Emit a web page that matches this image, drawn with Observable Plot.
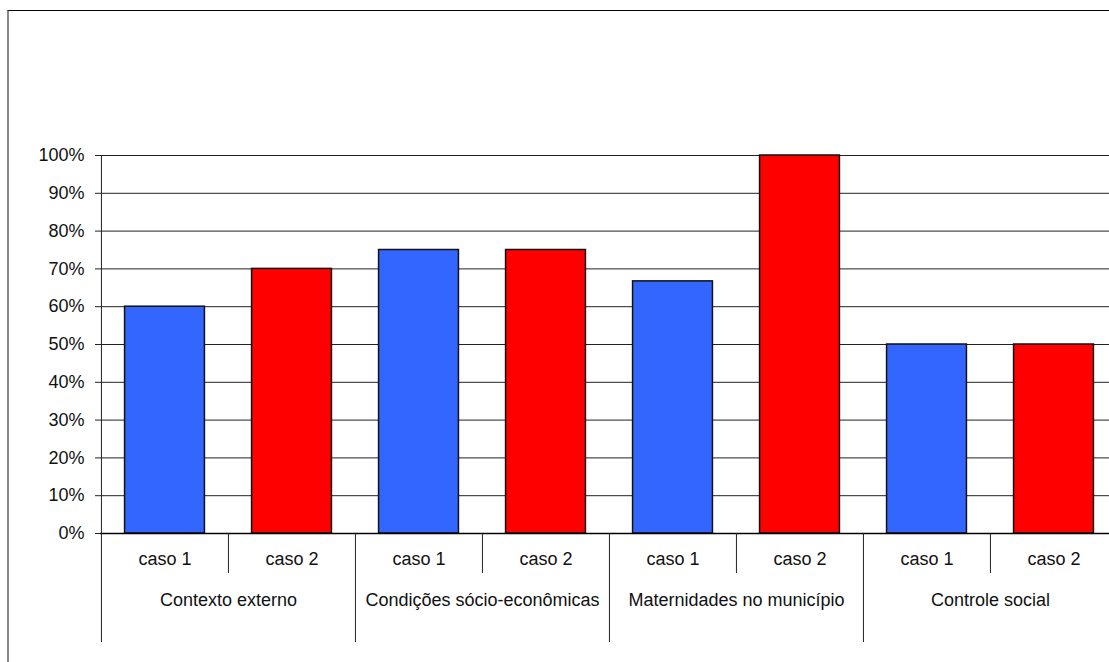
<!DOCTYPE html>
<html>
<head>
<meta charset="utf-8">
<script src="https://cdn.jsdelivr.net/npm/d3@7"></script>
<script src="https://cdn.jsdelivr.net/npm/@observablehq/plot@0.6"></script>
<style>
  html, body { margin: 0; padding: 0; background: #fff; overflow: hidden; }
  #wrap { position: relative; width: 1109px; height: 662px; overflow: hidden; }
  #frame { position: absolute; left: 7px; top: 10px; right: -20px; bottom: -20px;
           border-top: 1.5px solid #000; border-left: 2px solid #888; }
  #chart { position: absolute; left: 0; top: 0; }
  #chart svg { max-width: none !important; display: block; }
</style>
</head>
<body>
<div id="wrap">
  <div id="frame"></div>
  <div id="chart"></div>
</div>
<script>
// Categories and series
const groups = ["Contexto externo", "Condições sócio-econômicas", "Maternidades no município", "Controle social"];
const cases = ["caso 1", "caso 2"];
const caso1 = [0.60, 0.75, 0.667, 0.50];
const caso2 = [0.70, 0.75, 1.00, 0.50];
const yTicks = [0, 0.1, 0.2, 0.3, 0.4, 0.5, 0.6, 0.7, 0.8, 0.9, 1.0];
const caseColors = ["#3366FF", "#FF0000"];

// One row per bar
const rows = [];
groups.forEach((g, gi) => {
  cases.forEach((c, ci) => {
    rows.push({group: g, caso: c, key: g + "|" + c, value: (ci === 0 ? caso1 : caso2)[gi], ci});
  });
});
const keys = rows.map(d => d.key);
const firstOfGroup = rows.filter(d => d.ci === 0);
const secondOfGroup = rows.filter(d => d.ci === 1);

const W = 1130, H = 662;
const mL = 100, mR = 13, mT = 155, mB = 129;
const bw = (W - mL - mR) / keys.length;
const barW = 80;
const font = "'Liberation Sans', Arial, sans-serif";
const fs = 18;

const chart = Plot.plot({
  width: W,
  height: H,
  marginLeft: mL,
  marginRight: mR,
  marginTop: mT,
  marginBottom: mB,
  style: {fontFamily: font, fontSize: fs + "px", color: "#111", background: "transparent", overflow: "visible"},
  x: {type: "band", domain: keys, padding: 0, axis: null},
  y: {domain: [0, 1], axis: null},
  marks: [
    // horizontal gridlines
    Plot.ruleY(yTicks, {stroke: "#222", strokeWidth: 1}),
    // y axis with percent labels
    Plot.axisY({ticks: yTicks, tickSize: 5, tickPadding: 11, label: null,
      tickFormat: d => Math.round(d * 100) + "%", fontSize: fs, stroke: "#222"}),
    // bars
    Plot.barY(rows, {x: "key", y: "value", fill: d => caseColors[d.ci], stroke: "#111", strokeWidth: 1.5,
      insetLeft: (bw - barW) / 2, insetRight: (bw - barW) / 2}),
    // baseline
    Plot.ruleY([0], {stroke: "#000", strokeWidth: 1.3}),
    // short separators between the two cases of a group
    Plot.ruleX(secondOfGroup, {x: "key", dx: -bw / 2, y1: 0, y2: 0, insetBottom: -40, stroke: "#222", strokeWidth: 1}),
    // long separators between groups (the first one continues the y axis)
    Plot.ruleX(firstOfGroup, {x: "key", dx: -bw / 2, y1: (d, i) => (i === 0 ? 1 : 0), y2: 0, insetBottom: -109,
      stroke: "#222", strokeWidth: 1}),
    // case labels
    Plot.text(rows, {x: "key", y: 0, dy: 26, text: "caso", fontSize: fs, fill: "#111"}),
    // group labels
    Plot.text(firstOfGroup, {x: "key", dx: bw / 2, y: 0, dy: 67, text: "group", fontSize: fs, fill: "#111"})
  ]
});
chart.style.maxWidth = "none";
document.getElementById("chart").appendChild(chart);
</script>
</body>
</html>
